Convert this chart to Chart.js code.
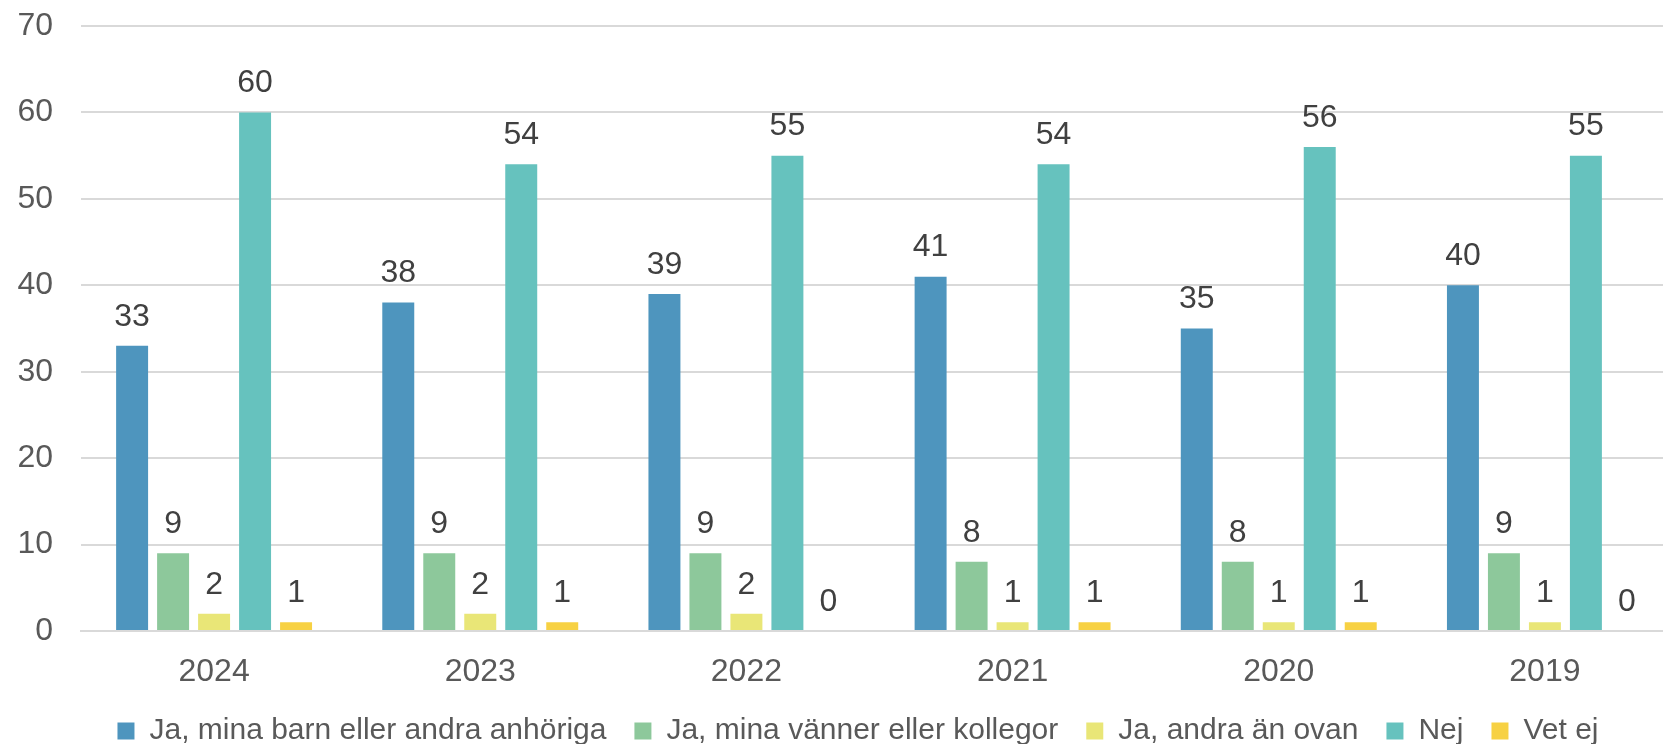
<!DOCTYPE html>
<html>
<head>
<meta charset="utf-8">
<script src="https://cdn.jsdelivr.net/npm/chart.js@4"></script>
<style>
  html, body { margin: 0; padding: 0; background: #fff; overflow: hidden; }
  #wrap { width: 1680px; height: 756px; }
</style>
</head>
<body>
<div id="wrap"><canvas id="chart" width="1680" height="756"></canvas></div>
<script>
'use strict';

// years on the x axis
const years = ['2024', '2023', '2022', '2021', '2020', '2019'];

// one array per answer, same order as years
const barnAnhoriga = [33, 38, 39, 41, 35, 40];
const vannerKollegor = [9, 9, 9, 8, 8, 9];
const andraAnOvan = [2, 2, 2, 1, 1, 1];
const nej = [60, 54, 55, 54, 56, 55];
const vetEj = [1, 1, 0, 1, 1, 0];

const seriesNames = [
    'Ja, mina barn eller andra anhöriga',
    'Ja, mina vänner eller kollegor',
    'Ja, andra än ovan',
    'Nej',
    'Vet ej'
];

const yTicks = [0, 10, 20, 30, 40, 50, 60, 70];

let canvasElem = document.getElementById('chart');
const fontFam = '"Liberation Sans", Arial, sans-serif';

// draws the number above every bar
const barValues = {
    id: 'barValues',
    afterDatasetsDraw(chart) {
        const ctx = chart.ctx;
        ctx.save();
        ctx.font = '32px ' + fontFam;
        ctx.fillStyle = '#404040';
        ctx.textAlign = 'center';
        ctx.textBaseline = 'middle';
        chart.data.datasets.forEach((ds, i) => {
            let meta = chart.getDatasetMeta(i);
            meta.data.forEach((bar, j) => {
                ctx.fillText(String(ds.data[j]), bar.x, bar.y - 29);
            });
        });
        ctx.restore();
    }
};

// the legend sits a bit right of the canvas middle in the original
const legendNudge = {
    id: 'legendNudge',
    afterLayout(chart) {
        chart.legend.left += 19;
        chart.legend.right += 19;
    }
};

function renderChart() {
    let colors = ['#4e95be', '#8dc89b', '#e9e677', '#66c2be', '#f7d143'];
    let allData = [barnAnhoriga, vannerKollegor, andraAnOvan, nej, vetEj];

    let datasets = [];
    for (let i = 0; i < allData.length; i++) {
        datasets.push({
            label: seriesNames[i],
            data: allData[i],
            backgroundColor: colors[i],
            borderWidth: 0,
            categoryPercentage: 0.77,
            barPercentage: 0.78
        });
    }

    new Chart(canvasElem, {
        type: 'bar',
        data: {
            labels: years,
            datasets: datasets
        },
        options: {
            responsive: false,
            animation: false,
            devicePixelRatio: 1,
            layout: {
                padding: { left: 0, right: 2, top: 0, bottom: 0 }
            },
            plugins: {
                tooltip: { enabled: false },
                legend: {
                    position: 'bottom',
                    labels: {
                        boxWidth: 17,
                        boxHeight: 17,
                        padding: 28,
                        color: '#595959',
                        font: { family: fontFam, size: 30 }
                    }
                }
            },
            scales: {
                x: {
                    afterFit(scale) { scale.height = 57; },
                    grid: { display: false, drawTicks: false },
                    border: { display: true, color: '#d9d9d9', width: 2 },
                    ticks: {
                        color: '#595959',
                        padding: 22,
                        font: { family: fontFam, size: 32 }
                    }
                },
                y: {
                    min: yTicks[0],
                    max: yTicks[yTicks.length - 1],
                    afterFit(scale) {
                        scale.width = 81;
                        // tick padding would otherwise push the top down
                        scale.paddingTop = 26;
                        scale.paddingBottom = 0;
                    },
                    grid: { color: '#d9d9d9', lineWidth: 2, drawTicks: false },
                    border: { display: false },
                    ticks: {
                        stepSize: yTicks[1] - yTicks[0],
                        color: '#595959',
                        padding: 28,
                        font: { family: fontFam, size: 32 }
                    }
                }
            }
        },
        plugins: [barValues, legendNudge]
    });
}

renderChart();
</script>
</body>
</html>
